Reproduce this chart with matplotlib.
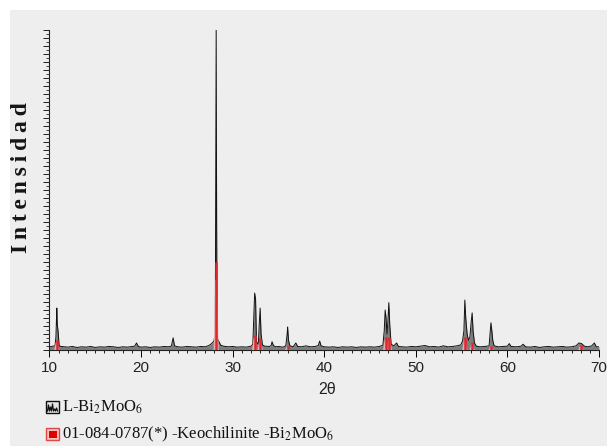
import numpy as np
import matplotlib
matplotlib.use("Agg")
import matplotlib.pyplot as plt
from matplotlib.patches import Rectangle
from matplotlib.ticker import MultipleLocator

plt.rcParams['mathtext.fontset'] = 'stix'

two_theta = [10.0, 10.4, 10.6, 10.7, 10.8, 10.85, 10.95, 11.05, 11.3, 12.0, 12.5, 13.0, 13.5,
             14.0, 14.5, 15.0, 15.5, 16.0, 16.5, 17.0, 17.5, 18.0, 18.5, 19.0, 19.3, 19.5,
             19.7, 20.0, 20.5, 21.0, 21.5, 22.0, 22.5, 23.0, 23.3, 23.5, 23.65, 24.0, 24.5,
             25.0, 25.5, 26.0, 26.5, 27.0, 27.4, 27.7, 27.95, 28.1, 28.2, 28.25, 28.3, 28.35,
             28.5, 28.7, 29.0, 29.5, 30.0, 30.5, 31.0, 31.5, 32.0, 32.2, 32.3, 32.4, 32.5,
             32.6, 32.8, 32.9, 33.0, 33.1, 33.25, 33.5, 34.0, 34.2, 34.3, 34.45, 34.7, 35.0,
             35.5, 35.8, 35.95, 36.0, 36.1, 36.25, 36.6, 36.9, 37.1, 37.5, 38.0, 38.5, 39.0,
             39.35, 39.5, 39.65, 40.0, 40.5, 41.0, 41.5, 42.0, 42.5, 43.0, 43.5, 44.0, 44.5,
             45.0, 45.5, 46.0, 46.4, 46.55, 46.65, 46.75, 46.85, 46.95, 47.05, 47.15, 47.3,
             47.6, 47.9, 48.1, 48.5, 49.0, 49.5, 50.0, 50.5, 51.0, 51.5, 52.0, 52.5, 53.0,
             53.5, 54.0, 54.5, 54.9, 55.1, 55.25, 55.35, 55.45, 55.6, 55.75, 55.9, 56.05,
             56.15, 56.25, 56.4, 56.6, 57.0, 57.5, 58.0, 58.1, 58.2, 58.3, 58.4, 58.55, 59.0,
             59.5, 60.0, 60.2, 60.4, 61.0, 61.5, 61.7, 62.0, 62.5, 63.0, 63.5, 64.0, 64.5,
             65.0, 65.5, 66.0, 66.5, 67.0, 67.5, 67.8, 68.1, 68.4, 68.8, 69.2, 69.5, 69.7, 70.0]
intensity = [1.0, 1.2, 1.3, 4.0, 13.1, 8.0, 5.5, 1.3, 1.1, 0.9, 1.1, 0.8, 1.0,
             0.9, 1.1, 0.8, 1.0, 0.9, 1.1, 1.0, 0.8, 1.0, 0.9, 1.1, 1.2, 2.2,
             1.1, 0.9, 1.0, 0.8, 1.0, 0.9, 1.1, 1.0, 1.2, 3.8, 1.3, 1.0, 0.9,
             1.1, 1.0, 0.9, 1.1, 1.0, 1.4, 2.0, 2.8, 5.0, 100.0, 40.0, 5.0, 3.5,
             2.6, 1.5, 1.2, 1.0, 1.1, 0.9, 1.0, 0.9, 1.2, 1.8, 10.0, 17.8, 16.0,
             2.6, 1.8, 8.0, 13.1, 5.0, 1.6, 1.2, 1.1, 1.4, 2.6, 1.4, 1.0, 1.1,
             0.9, 1.3, 5.0, 7.2, 3.0, 1.3, 1.0, 2.2, 1.1, 1.0, 1.3, 1.0, 1.1,
             1.4, 2.8, 1.3, 1.0, 0.9, 1.0, 0.8, 1.0, 0.9, 1.0, 0.8, 1.0, 0.9,
             1.0, 0.9, 1.1, 1.5, 6.0, 12.5, 10.0, 5.0, 9.0, 14.8, 8.0, 1.8,
             1.3, 2.2, 1.1, 1.0, 0.9, 1.1, 1.0, 1.2, 1.4, 1.0, 1.1, 0.9, 1.3,
             1.0, 1.1, 1.3, 1.6, 2.8, 6.0, 15.6, 10.0, 5.0, 3.0, 4.0, 9.0,
             11.6, 6.0, 2.2, 1.2, 1.0, 1.1, 1.3, 5.0, 8.5, 6.0, 3.0, 1.3, 1.0,
             1.1, 1.2, 2.0, 1.1, 1.0, 1.2, 1.8, 1.0, 0.9, 1.1, 0.8, 1.0, 1.1,
             0.9, 1.0, 1.1, 0.9, 1.0, 1.3, 2.2, 2.0, 1.2, 1.0, 1.3, 2.2, 1.0, 1.0]

# Reference card 01-084-0787 Koechlinite Bi2MoO6 (stick positions / heights)
ref_pos = [10.8, 28.2, 32.4, 33.0, 36.0, 46.7, 47.1, 55.35, 56.15, 58.2, 68.0]
ref_int = [3.1, 27.5, 4.7, 3.8, 1.2, 4.0, 4.0, 4.0, 2.5, 1.2, 1.5]

xticks = [10, 20, 30, 40, 50, 60, 70]

W, H = 607, 446
fig = plt.figure(figsize=(W / 100, H / 100), dpi=100)
fig.patch.set_facecolor('white')

# overlay in pixel coords for background + legend
ov = fig.add_axes([0, 0, 1, 1])
ov.set_xlim(0, W)
ov.set_ylim(H, 0)
ov.axis('off')
ov.add_patch(Rectangle((10, 10), W - 10, H - 10, facecolor='#eeeeee', edgecolor='none'))

ax = fig.add_axes([49.5 / W, 1 - 350 / H, (599 - 49.5) / W, 320 / H])
ax.patch.set_alpha(0)
ax.set_xlim(10, 70)
ax.set_ylim(0, 100)

ax.fill_between(two_theta, 0, intensity, color='#7d7d7d', lw=0, zorder=2)
ax.plot(two_theta, intensity, color='#111111', lw=0.7, zorder=3)

# pink profile + red sticks for the reference card
for p, h in zip(ref_pos, ref_int):
    ax.fill([p - 0.28, p - 0.1, p + 0.1, p + 0.28], [0, h * 0.8, h * 0.8, 0],
            color='#f3b3b3', alpha=0.9, lw=0, zorder=4)
ax.vlines(ref_pos, 0, ref_int, color='#e0262b', lw=1.8, zorder=5)

for s in ['top', 'right']:
    ax.spines[s].set_visible(False)
for s in ['left', 'bottom']:
    ax.spines[s].set_linewidth(0.8)
    ax.spines[s].set_color('#222222')

ax.set_xticks(xticks)
ax.set_xticklabels([str(t) for t in xticks], fontfamily='Liberation Sans', fontsize=11, color='#222222')
ax.xaxis.set_minor_locator(MultipleLocator(1))
ax.tick_params(axis='x', which='major', length=5, width=0.7, pad=3)
ax.tick_params(axis='x', which='minor', length=2.5, width=0.6)

ax.yaxis.set_major_locator(MultipleLocator(2.5))
ax.yaxis.set_minor_locator(MultipleLocator(1.25))
ax.tick_params(axis='y', which='major', length=4, width=0.6, labelleft=False)
ax.tick_params(axis='y', which='minor', length=2.5, width=0.5)

ov.text(22, 178, '\u2009'.join('Intensidad'), rotation=90, ha='center', va='center',
        fontsize=17, fontweight='bold', family=['Liberation Serif', 'DejaVu Serif'], color='#151515')
ov.text(327, 389, '2θ', ha='center', va='center', fontsize=11.5,
        family=['Liberation Sans', 'DejaVu Sans'], color='#222222')

# legend entries
ov.add_patch(Rectangle((46, 401), 13, 12, facecolor='#e4e4e4', edgecolor='#111111', lw=1))
ov.plot([47.5, 48.5, 49.5, 50.5, 51.5, 52.5, 53.5, 54.5, 55.5, 56.5, 57.5],
        [411, 405, 411, 407, 411, 404, 411, 409, 411, 408, 411], color='#111111', lw=0.9)
ov.text(62, 407, r'L-Bi$_2$MoO$_6$', ha='left', va='center', fontsize=12,
        family=['Liberation Serif', 'DejaVu Serif'], color='#111111')

ov.add_patch(Rectangle((46, 428), 13, 12, facecolor='#f6c0c0', edgecolor='#e04848', lw=1))
ov.add_patch(Rectangle((48.5, 430.5), 8, 7, facecolor='#e00000', edgecolor='none'))
ov.text(62, 434, r'01-084-0787(*) -Keochilinite -Bi$_2$MoO$_6$', ha='left', va='center',
        fontsize=12, family=['Liberation Serif', 'DejaVu Serif'], color='#111111')

fig.savefig('out.png', dpi=100, facecolor='white')
